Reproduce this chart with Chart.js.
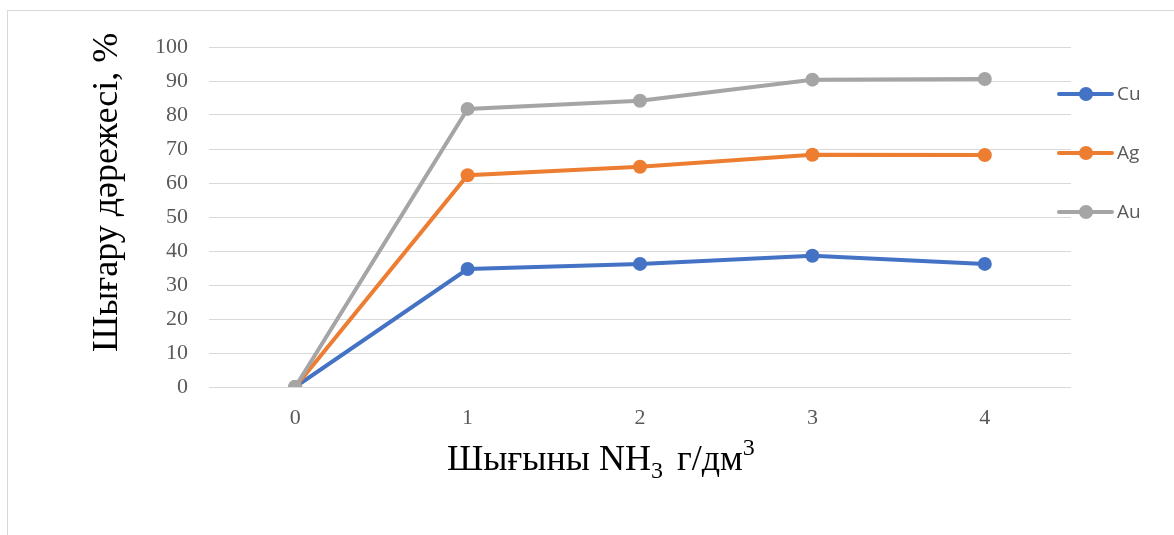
<!DOCTYPE html>
<html>
<head>
<meta charset="utf-8">
<script src="https://cdn.jsdelivr.net/npm/chart.js@4"></script>
<style>
  html, body { margin: 0; padding: 0; background: #fff; }
  #wrap { width: 1174px; height: 535px; position: relative; }
</style>
</head>
<body>
<div id="wrap"><canvas id="extractionChart"></canvas></div>
<script>
const doses = ["0", "1", "2", "3", "4"];
const cu = [0, 34.7, 36.2, 38.6, 36.2];
const ag = [0, 62.3, 64.8, 68.3, 68.2];
const au = [0, 81.8, 84.2, 90.4, 90.6];
const yTicks = [0, 10, 20, 30, 40, 50, 60, 70, 80, 90, 100];

const serif = "'Liberation Serif', 'Times New Roman', serif";

// frame, axis titles with sub/superscripts, and the line+marker legend
const decorations = {
  id: "decorations",
  beforeDraw(chart) {
    const c = chart.ctx;
    c.save();
    c.strokeStyle = "#d9d9d9";
    c.lineWidth = 1;
    c.strokeRect(7.5, 10.5, 1200, 560);
    c.restore();
  },
  afterDraw(chart) {
    const c = chart.ctx;
    c.save();
    c.fillStyle = "#000";

    // y title
    c.translate(117, 352);
    c.rotate(-Math.PI / 2);
    c.font = "36px " + serif;
    c.textBaseline = "alphabetic";
    c.textAlign = "left";
    c.fillText("Шығару дәрежесі, %", 0, 0);
    c.setTransform(1, 0, 0, 1, 0, 0);

    // x title
    let x = 447;
    const base = 470;
    c.font = "36px " + serif;
    c.fillText("Шығыны NH", x, base);
    x += c.measureText("Шығыны NH").width;
    c.font = "24px " + serif;
    c.fillText("3", x, base + 8);
    x += c.measureText("3").width + 14;
    c.font = "36px " + serif;
    c.fillText("г/дм", x, base);
    x += c.measureText("г/дм").width;
    c.font = "24px " + serif;
    c.fillText("3", x, base - 15);

    // legend
    const ys = [94, 153, 212];
    c.font = "19px 'Open Sans', sans-serif";
    c.textBaseline = "middle";
    chart.data.datasets.forEach((ds, i) => {
      const y = ys[i];
      c.strokeStyle = ds.borderColor;
      c.lineWidth = 4;
      c.lineCap = "round";
      c.beginPath();
      c.moveTo(1059, y);
      c.lineTo(1112, y);
      c.stroke();
      c.fillStyle = ds.borderColor;
      c.beginPath();
      c.arc(1086, y, 7, 0, Math.PI * 2);
      c.fill();
      c.fillStyle = "#595959";
      c.fillText(ds.label, 1117, y + 1);
    });
    c.restore();
  },
};

new Chart(document.getElementById("extractionChart"), {
  type: "line",
  data: {
    labels: doses,
    datasets: [
      { label: "Cu", data: cu, borderColor: "#4472C4", backgroundColor: "#4472C4", order: 3 },
      { label: "Ag", data: ag, borderColor: "#ED7D31", backgroundColor: "#ED7D31", order: 2 },
      { label: "Au", data: au, borderColor: "#A5A5A5", backgroundColor: "#A5A5A5", order: 1 },
    ],
  },
  options: {
    responsive: true,
    maintainAspectRatio: false,
    animation: false,
    layout: { padding: { top: 47, right: 103, left: 0, bottom: 0 } },
    elements: {
      line: { borderWidth: 4, tension: 0 },
      point: { radius: 7, borderWidth: 0, hoverRadius: 7 },
    },
    plugins: {
      legend: { display: false },
      tooltip: { enabled: false },
    },
    scales: {
      x: {
        offset: true,
        grid: { display: false },
        border: { display: false },
        ticks: { color: "#595959", font: { family: serif, size: 22 }, padding: 10 },
        afterFit(scale) { scale.height = 148; },
      },
      y: {
        min: 0,
        max: 100,
        afterBuildTicks(scale) { scale.ticks = yTicks.map((v) => ({ value: v })); },
        grid: { color: "#d9d9d9", lineWidth: 1, drawTicks: false },
        border: { display: false },
        ticks: { color: "#595959", font: { family: serif, size: 22 }, padding: 21 },
        afterFit(scale) { scale.width = 209; },
      },
    },
  },
  plugins: [decorations],
});
</script>
</body>
</html>
